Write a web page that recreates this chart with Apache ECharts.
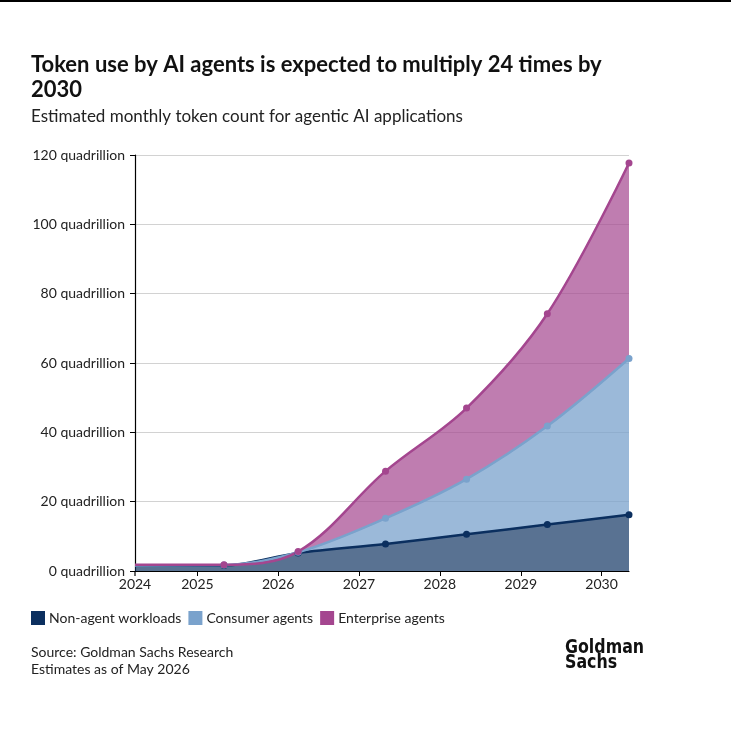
<!DOCTYPE html>
<html>
<head>
<meta charset="utf-8">
<script src="https://cdn.jsdelivr.net/npm/echarts@6/dist/echarts.min.js"></script>
<style>
  html, body { margin: 0; padding: 0; background: #fff; }
  #chart { width: 731px; height: 738px; }
</style>
</head>
<body>
<div id="chart"></div>
<script>
// dates of the estimates
var periods = ['2024-03-25', '2025-05-01', '2026-04-01', '2027-05-01', '2028-05-01', '2029-05-01', '2030-05-05'];
// quadrillion tokens per month, stacked
var nonAgent = [1.5, 1.6, 5.2, 7.8, 10.6, 13.4, 16.2];
var consumer = [0.1, 0.1, 0.2, 7.4, 15.9, 28.4, 45.1];
var enterprise = [0.2, 0.1, 0.2, 13.6, 20.5, 32.4, 56.4];

var font = 'Lato, "Noto Sans", sans-serif';
var myChart = echarts.init(document.getElementById('chart'));

var tMin = +new Date(periods[0]);
var tMax = +new Date(periods[periods.length - 1]);

function pts(vals) {
    return vals.map(function (v, i) {
        var item = { value: [periods[i], v] };
        if (i === 0) item.symbolSize = 0;   // no dot at the start
        return item;
    });
}

function mkSeries(name, vals, line, fill) {
    return {
        name: name,
        type: 'line',
        stack: 'total',
        smooth: 0.35,
        symbol: 'circle',
        symbolSize: 7,
        showAllSymbol: true,
        lineStyle: { color: line, width: 2.5 },
        itemStyle: { color: line },
        areaStyle: { color: fill, opacity: 1 },
        emphasis: { disabled: true },
        data: pts(vals)
    };
}

var option = {
    animation: false,
    textStyle: { fontFamily: font },
    title: [
        {
            text: 'Token use by AI agents is expected to multiply 24 times by\n2030',
            left: 31, top: 52, padding: 0,
            textStyle: { fontSize: 22, fontWeight: 'bold', color: '#111', lineHeight: 25, fontFamily: font }
        },
        {
            text: 'Estimated monthly token count for agentic AI applications',
            left: 31, top: 108, padding: 0,
            textStyle: { fontSize: 17, fontWeight: 'normal', color: '#222', fontFamily: font }
        }
    ],
    legend: {
        left: 31, top: 611, padding: 0,
        itemWidth: 14, itemHeight: 14, itemGap: 7,
        icon: 'rect',
        textStyle: { fontSize: 14, color: '#222', padding: [0, 0, 0, -1] },
        data: [
            { name: 'Non-agent workloads', itemStyle: { color: '#0b2f5f' } },
            { name: 'Consumer agents', itemStyle: { color: '#7aa2cc' } },
            { name: 'Enterprise agents', itemStyle: { color: '#a4468f' } }
        ]
    },
    grid: { left: 135, right: 102, top: 155, bottom: 167, containLabel: false },
    xAxis: {
        type: 'time',
        min: tMin,
        max: tMax,
        splitLine: { show: false },
        axisLine: { lineStyle: { color: '#000', width: 1.2 } },
        axisTick: { show: true, length: 5, lineStyle: { color: '#000' } },
        axisLabel: {
            color: '#222', fontSize: 14, margin: 6,
            hideOverlap: false,
            formatter: function (v) {
                if (v >= tMax - 86400000) return '';
                return String(new Date(v).getFullYear());
            }
        }
    },
    yAxis: {
        type: 'value',
        min: 0, max: 120, interval: 20,
        axisLine: { show: true, lineStyle: { color: '#000', width: 1.2 } },
        axisTick: { show: true, length: 5, lineStyle: { color: '#000' } },
        splitLine: { lineStyle: { color: '#d2d2d2', width: 1 } },
        axisLabel: {
            color: '#222', fontSize: 14, margin: 10,
            formatter: function (v) { return v + ' quadrillion'; }
        }
    },
    series: [
        mkSeries('Non-agent workloads', nonAgent, '#0b2f5f', 'rgba(11,47,95,0.68)'),
        mkSeries('Consumer agents', consumer, '#7aa2cc', 'rgba(122,162,204,0.75)'),
        mkSeries('Enterprise agents', enterprise, '#a4468f', 'rgba(164,70,143,0.7)')
    ],
    graphic: [
        { type: 'rect', left: 0, top: 0, shape: { width: 731, height: 2 }, style: { fill: '#000' } },
        {
            type: 'text', left: 31, top: 644,
            style: { text: 'Source: Goldman Sachs Research\nEstimates as of May 2026', fontSize: 14, lineHeight: 17, fill: '#222', fontFamily: font }
        },
        {
            type: 'text', x: 565, y: 640, scaleX: 0.88,
            style: { text: 'Goldman\nSachs', fontSize: 20, lineHeight: 15, fontWeight: 'bold', fill: '#111', fontFamily: '"Liberation Sans Narrow", "DejaVu Sans Condensed", sans-serif' }
        }
    ]
};
myChart.setOption(option);

// the time axis gives no label at its start, so add the first year there
var p0 = myChart.convertToPixel({ gridIndex: 0 }, [tMin, 0]);
myChart.setOption({
    graphic: option.graphic.concat([
        {
            type: 'line', shape: { x1: p0[0], y1: p0[1], x2: p0[0], y2: p0[1] + 5 },
            style: { stroke: '#000', lineWidth: 1.2 }
        },
        {
            type: 'text', x: p0[0], y: p0[1] + 6,
            style: { text: String(new Date(tMin).getFullYear()), fontSize: 14, fill: '#222', fontFamily: font, align: 'center', verticalAlign: 'top' }
        }
    ])
});
</script>
</body>
</html>
